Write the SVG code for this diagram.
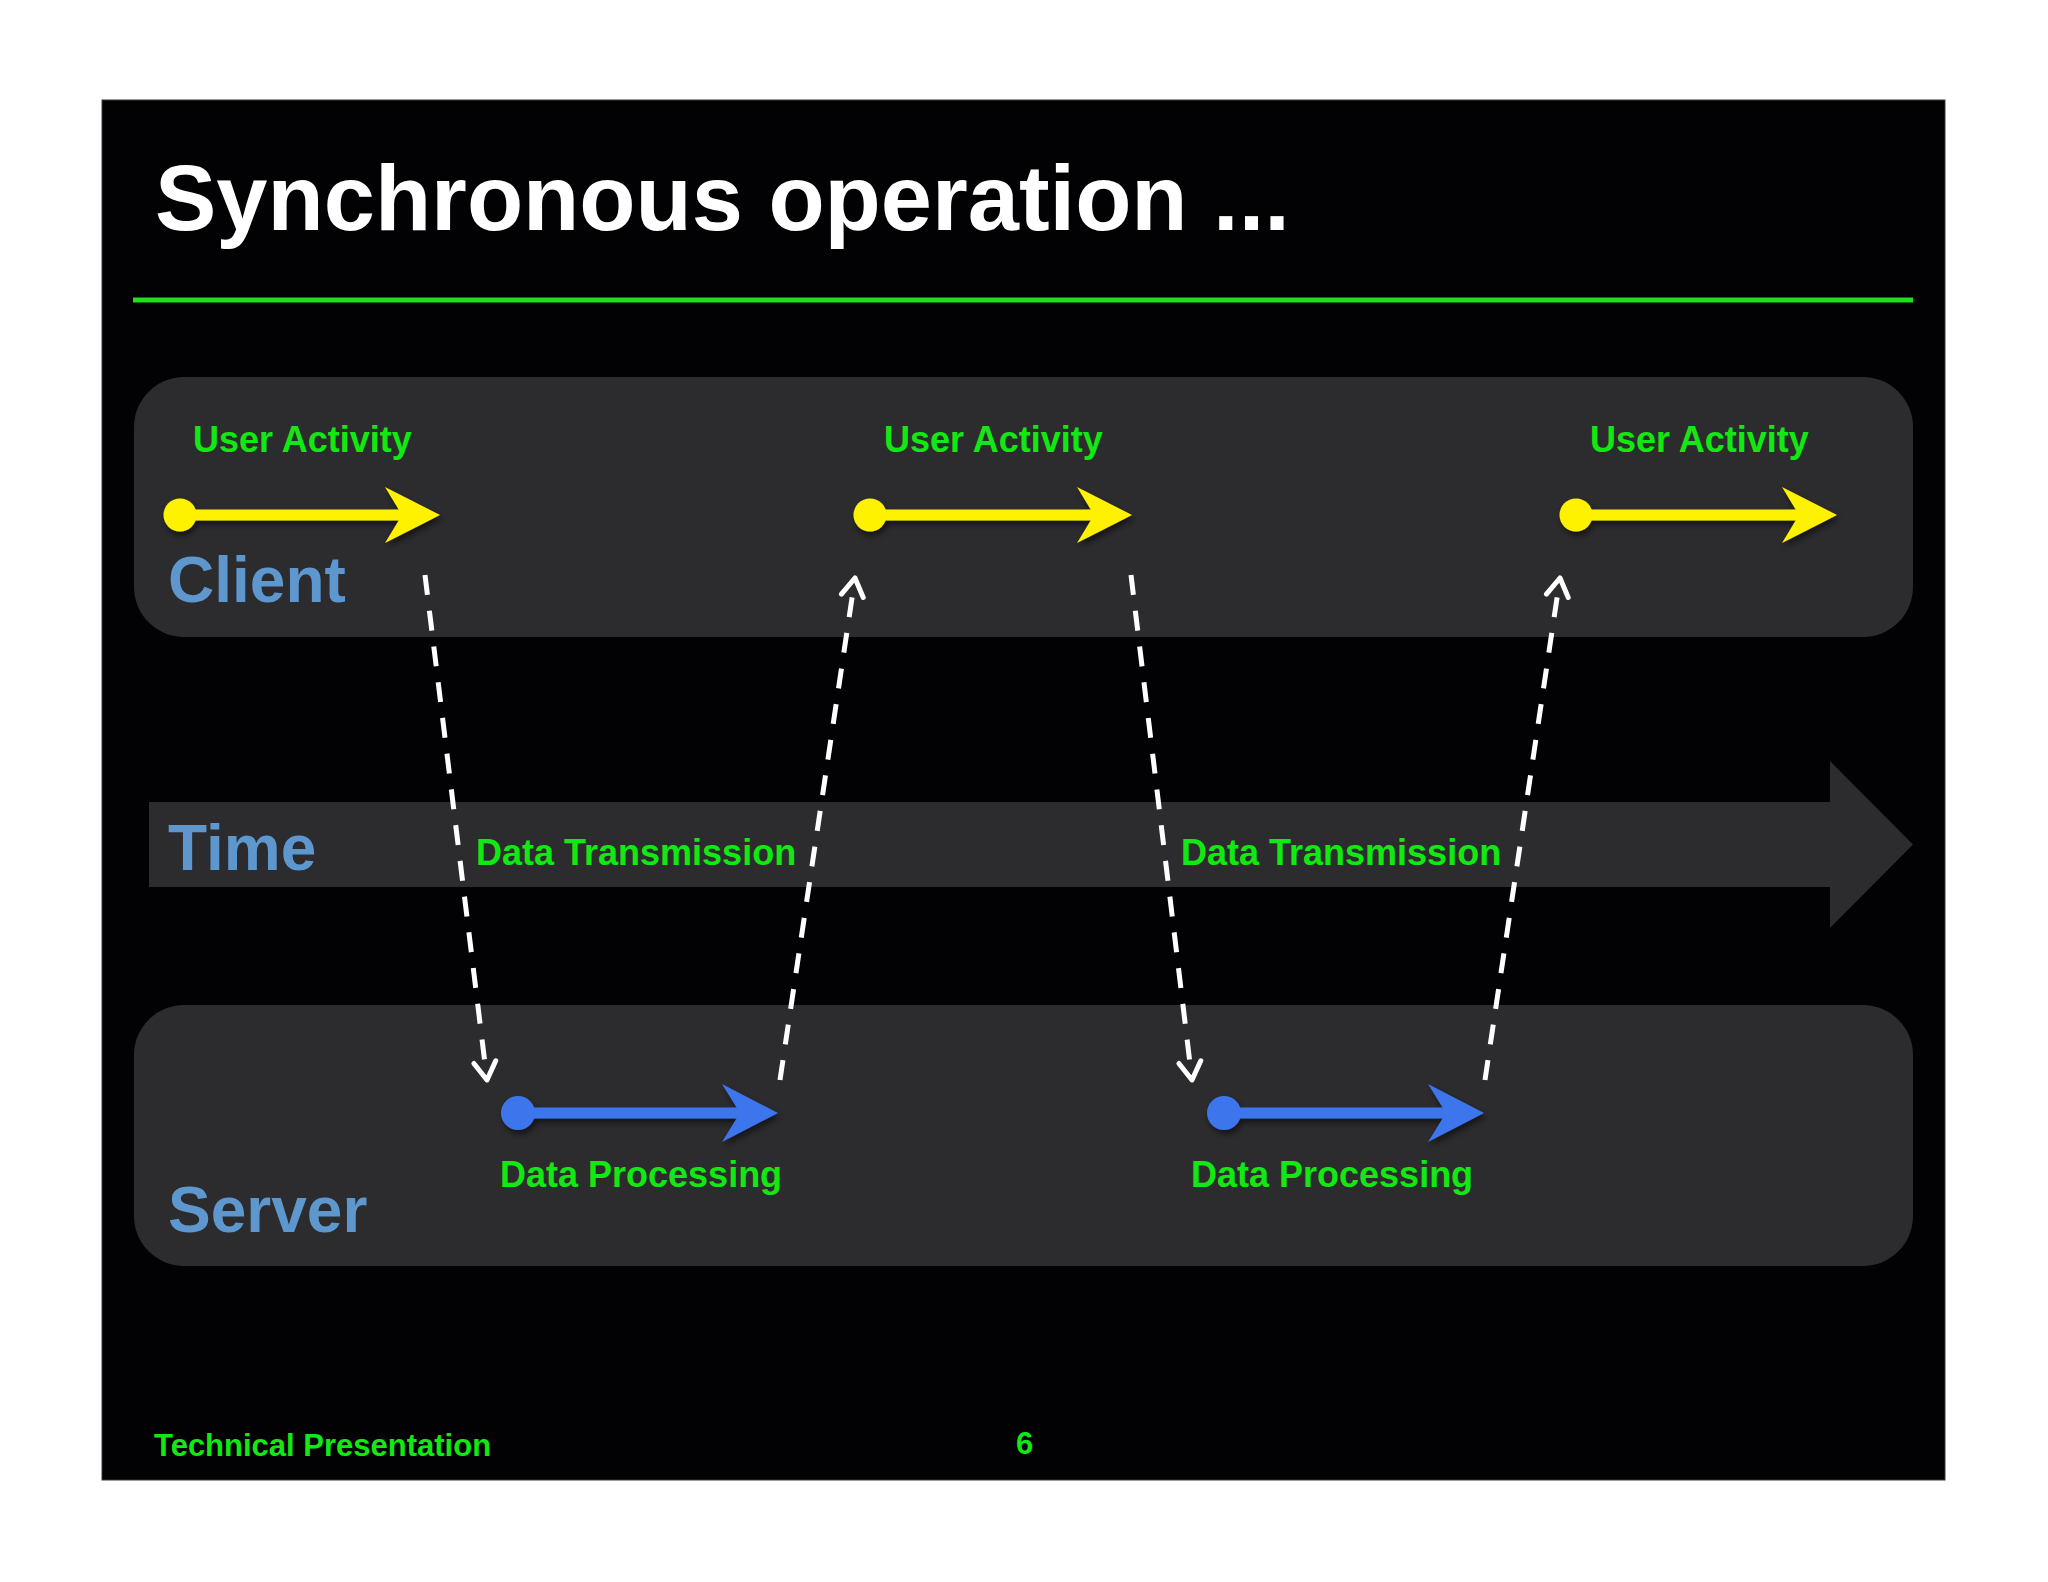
<svg xmlns="http://www.w3.org/2000/svg" width="2048" height="1582" viewBox="0 0 2048 1582">
  <style>
    .lane { fill: #2c2b2e; }
    .lane-label { font-family: "Liberation Sans", Arial, sans-serif; font-weight: bold; font-size: 64px; fill: #5e97cd; }
    .green { font-family: "Liberation Sans", Arial, sans-serif; font-weight: bold; font-size: 36px; fill: #12e812; }
    .footer { font-family: "Liberation Sans", Arial, sans-serif; font-weight: bold; font-size: 31px; fill: #12e812; }
    .title { font-family: "Liberation Sans", Arial, sans-serif; font-weight: bold; font-size: 92px; fill: #ffffff; }
    .yellow { fill: #fff200; }
    .yellow-line { stroke: #fff200; stroke-width: 11; fill: none; }
    .blue { fill: #3e76ec; }
    .blue-line { stroke: #3e76ec; stroke-width: 11; fill: none; }
    .dash { stroke: #ffffff; stroke-width: 5; fill: none; stroke-dasharray: 20 16; }
  </style>
  <defs>
    <filter id="shadow" x="-20%" y="-50%" width="140%" height="200%">
      <feDropShadow dx="2" dy="4" stdDeviation="3" flood-color="#000" flood-opacity="0.55"/>
    </filter>
    <marker id="chev" markerUnits="userSpaceOnUse" viewBox="-24 -14 30 28" refX="0" refY="0" markerWidth="30" markerHeight="28" orient="auto">
      <path d="M-18,-11 L0,0 L-18,11" fill="none" stroke="#ffffff" stroke-width="5" stroke-linecap="round" stroke-linejoin="round"/>
    </marker>
  </defs>

  <rect x="0" y="0" width="2048" height="1582" fill="#ffffff"/>
  <rect id="slide" x="102" y="100" width="1843" height="1380" fill="#020103" stroke="#3a3a3a" stroke-width="1"/>

  <g id="title">
    <text class="title" x="155" y="230">Synchronous operation ...</text>
    <line x1="133" y1="300" x2="1913" y2="300" stroke="#1ee01e" stroke-width="5"/>
  </g>

  <g id="client-lane">
    <rect class="lane" x="134" y="377" width="1779" height="260" rx="50" ry="50"/>
    <text class="lane-label" x="168" y="602">Client</text>
  </g>

  <g id="time-axis">
    <path class="lane" d="M149,802 H1830 V761 L1913,844.5 L1830,928 V887 H149 Z"/>
    <text class="lane-label" x="168" y="870">Time</text>
  </g>

  <g id="server-lane">
    <rect class="lane" x="134" y="1005" width="1779" height="261" rx="50" ry="50"/>
    <text class="lane-label" x="168" y="1232">Server</text>
  </g>

  <g id="user-activity-1">
    <text class="green" x="193" y="452">User Activity</text>
    <g filter="url(#shadow)">
      <line class="yellow-line" x1="180" y1="515" x2="405" y2="515"/>
      <circle class="yellow" cx="180" cy="515" r="16.5"/>
      <polygon class="yellow" points="440,515 385,487 402,515 385,543"/>
    </g>
  </g>

  <g id="user-activity-2">
    <text class="green" x="884" y="452">User Activity</text>
    <g filter="url(#shadow)">
      <line class="yellow-line" x1="870" y1="515" x2="1096" y2="515"/>
      <circle class="yellow" cx="870" cy="515" r="16.5"/>
      <polygon class="yellow" points="1132,515 1077,487 1094,515 1077,543"/>
    </g>
  </g>

  <g id="user-activity-3">
    <text class="green" x="1590" y="452">User Activity</text>
    <g filter="url(#shadow)">
      <line class="yellow-line" x1="1576" y1="515" x2="1801" y2="515"/>
      <circle class="yellow" cx="1576" cy="515" r="16.5"/>
      <polygon class="yellow" points="1837,515 1782,487 1799,515 1782,543"/>
    </g>
  </g>

  <g id="data-processing-1">
    <g filter="url(#shadow)">
      <line class="blue-line" x1="518" y1="1113" x2="742" y2="1113"/>
      <circle class="blue" cx="518" cy="1113" r="17"/>
      <polygon class="blue" points="778,1113 722,1084 740,1113 722,1142"/>
    </g>
    <text class="green" x="500" y="1187">Data Processing</text>
  </g>

  <g id="data-processing-2">
    <g filter="url(#shadow)">
      <line class="blue-line" x1="1224" y1="1113" x2="1448" y2="1113"/>
      <circle class="blue" cx="1224" cy="1113" r="17"/>
      <polygon class="blue" points="1484,1113 1428,1084 1446,1113 1428,1142"/>
    </g>
    <text class="green" x="1191" y="1187">Data Processing</text>
  </g>

  <g id="connectors">
    <path class="dash" d="M425,575 L487,1080" marker-end="url(#chev)"/>
    <path class="dash" d="M780,1080 L855,578" marker-end="url(#chev)"/>
    <path class="dash" d="M1131,575 L1192,1080" marker-end="url(#chev)"/>
    <path class="dash" d="M1485,1080 L1560,578" marker-end="url(#chev)"/>
  </g>

  <g id="transmission-labels">
    <text class="green" x="476" y="865">Data Transmission</text>
    <text class="green" x="1181" y="865">Data Transmission</text>
  </g>

  <g id="footer">
    <text class="footer" x="154" y="1456">Technical Presentation</text>
    <text class="footer" x="1016" y="1454">6</text>
  </g>
</svg>
